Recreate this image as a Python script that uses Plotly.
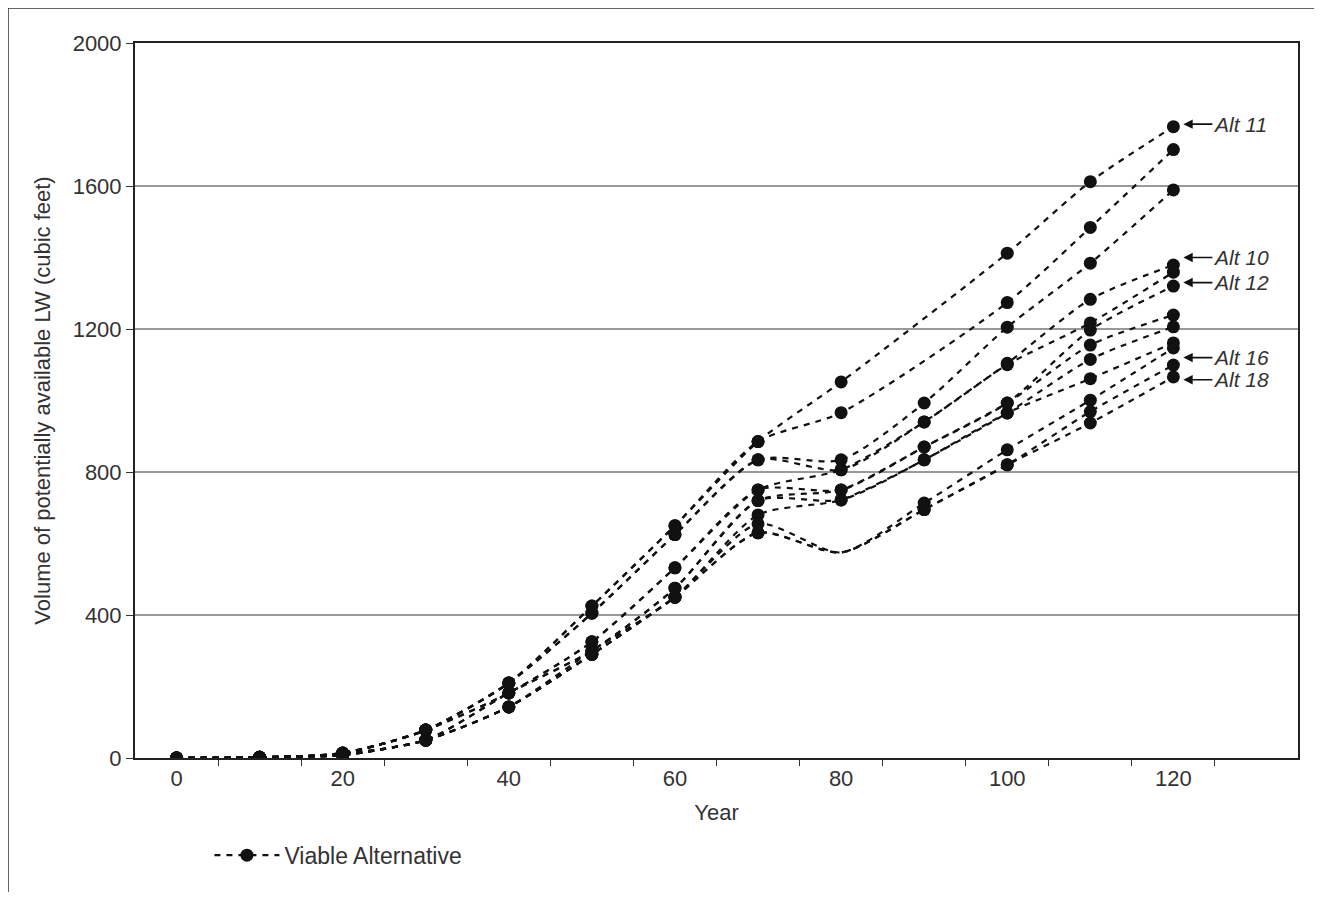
import plotly.graph_objects as go

years = [0, 10, 20, 30, 40, 50, 60, 70, 80, 90, 100, 110, 120]

s01 = [0, 2, 14, 78, 210, 425, 650, 885, 1052, None, 1412, 1612, 1766]
s02 = [0, 2, 14, 78, 210, 425, 650, 885, 966, None, 1274, 1484, 1702]
s03 = [0, 2, 14, 78, 210, 405, 625, 834, 834, 993, 1205, 1384, 1589]
s04 = [0, 2, 14, 78, 210, 405, 625, 834, 806, 940, 1104, 1283, 1379]
s05 = [0, 2, 12, 78, 182, 325, 532, 750, 806, 940, 1100, 1217, 1359]
s06 = [0, 2, 12, 78, 182, 325, 532, 750, 750, 870, 993, 1197, 1320]
s07 = [0, 2, 12, 50, 182, 300, 475, 720, 750, 870, 993, 1155, 1239]
s08 = [0, 2, 12, 50, 182, 300, 475, 720, 722, 834, 965, 1115, 1206]
s09 = [0, 2, 8, 50, 143, 300, 450, 680, 722, 834, 965, 1061, 1161]
s10 = [0, 2, 8, 50, 143, 290, 450, 655, 575, 713, 862, 1001, 1147]
s11 = [0, 2, 8, 50, 143, 290, 450, 630, 575, 695, 820, 969, 1099]
s12 = [0, 2, 8, 50, 143, 290, 450, 630, 575, 695, 820, 937, 1066]

series = [s01, s02, s03, s04, s05, s06, s07, s08, s09, s10, s11, s12]
# series whose year-80 point has no marker drawn
unmarked_80 = [9, 10, 11]

alt_labels = ["Alt 11", "Alt 10", "Alt 12", "Alt 16", "Alt 18"]
alt_label_values = [1773, 1400, 1330, 1120, 1058]

y_ticks = [0, 400, 800, 1200, 1600, 2000]
x_label_ticks = [0, 20, 40, 60, 80, 100, 120]
x_minor_ticks = [5, 15, 25, 35, 45, 55, 65, 75, 85, 95, 105, 115, 125]

FONT = "Liberation Sans, Arial, sans-serif"
TXT = "#333333"
INK = "#111111"
LINE_STYLE = dict(color=INK, width=2.2, dash="6px,6px", shape="spline", smoothing=0.7)

fig = go.Figure()
for i, vals in enumerate(series):
    xs = [x for x, v in zip(years, vals) if v is not None]
    ys = [v for v in vals if v is not None]
    sizes = [13] * len(xs)
    if i in unmarked_80:
        sizes[xs.index(80)] = 0
    fig.add_trace(go.Scatter(
        x=xs, y=ys, mode="lines+markers",
        name="Viable Alternative",
        showlegend=False, opacity=1,
        line=LINE_STYLE,
        marker=dict(color=INK, size=sizes, opacity=1, line=dict(width=0)),
        hoverinfo="x+y",
    ))

# legend entry
fig.add_trace(go.Scatter(
    x=[None], y=[None], mode="lines+markers", name="Viable Alternative",
    showlegend=True, line=LINE_STYLE,
    marker=dict(color=INK, size=13, opacity=1, line=dict(width=0)),
))

for lab, yv in zip(alt_labels, alt_label_values):
    fig.add_annotation(
        x=121.2, y=yv, text="<i>" + lab + "</i>",
        showarrow=True, ax=29, ay=0, xanchor="left",
        arrowhead=2, arrowsize=1.1, arrowwidth=1.7, arrowcolor=INK,
        borderpad=0,
        font=dict(family=FONT, size=21, color=TXT),
    )

# outer frame (top and left edges)
fig.add_shape(type="line", xref="paper", yref="paper",
              x0=-0.1092, y0=1.049, x1=1.05, y1=1.049,
              line=dict(color="#333333", width=1.5))
fig.add_shape(type="line", xref="paper", yref="paper",
              x0=-0.1092, y0=1.049, x1=-0.1092, y1=-0.25,
              line=dict(color="#333333", width=1.5))

fig.update_layout(
    width=1306, height=884,
    margin=dict(l=127, r=16, t=35, b=134),
    paper_bgcolor="white", plot_bgcolor="white",
    font=dict(family=FONT, size=22, color=TXT),
    showlegend=True,
    legend=dict(x=0.064, y=-0.136, xanchor="left", yanchor="middle",
                font=dict(family=FONT, size=23, color=TXT),
                bgcolor="rgba(0,0,0,0)", itemwidth=65),
)
fig.update_xaxes(
    range=[-5, 135], tickvals=x_label_ticks, ticks="",
    minor=dict(tickvals=x_minor_ticks, ticks="outside", ticklen=6, tickcolor="#333333", tickwidth=1),
    showgrid=False, showline=True, linecolor="#222222", linewidth=2, mirror=True,
    zeroline=False,
    title=dict(text="Year", font=dict(family=FONT, size=22, color=TXT), standoff=14),
    tickfont=dict(family=FONT, size=22, color=TXT),
)
fig.update_yaxes(
    range=[0, 2000], tickvals=y_ticks, ticks="outside", ticklen=7,
    tickcolor="#333333",
    showgrid=True, gridcolor="#999999", gridwidth=1.5,
    showline=True, linecolor="#222222", linewidth=2, mirror=True,
    zeroline=False,
    title=dict(text="Volume of potentially available LW (cubic feet)",
               font=dict(family=FONT, size=22, color=TXT), standoff=16),
    tickfont=dict(family=FONT, size=22, color=TXT),
)

fig.write_html("out.html")
